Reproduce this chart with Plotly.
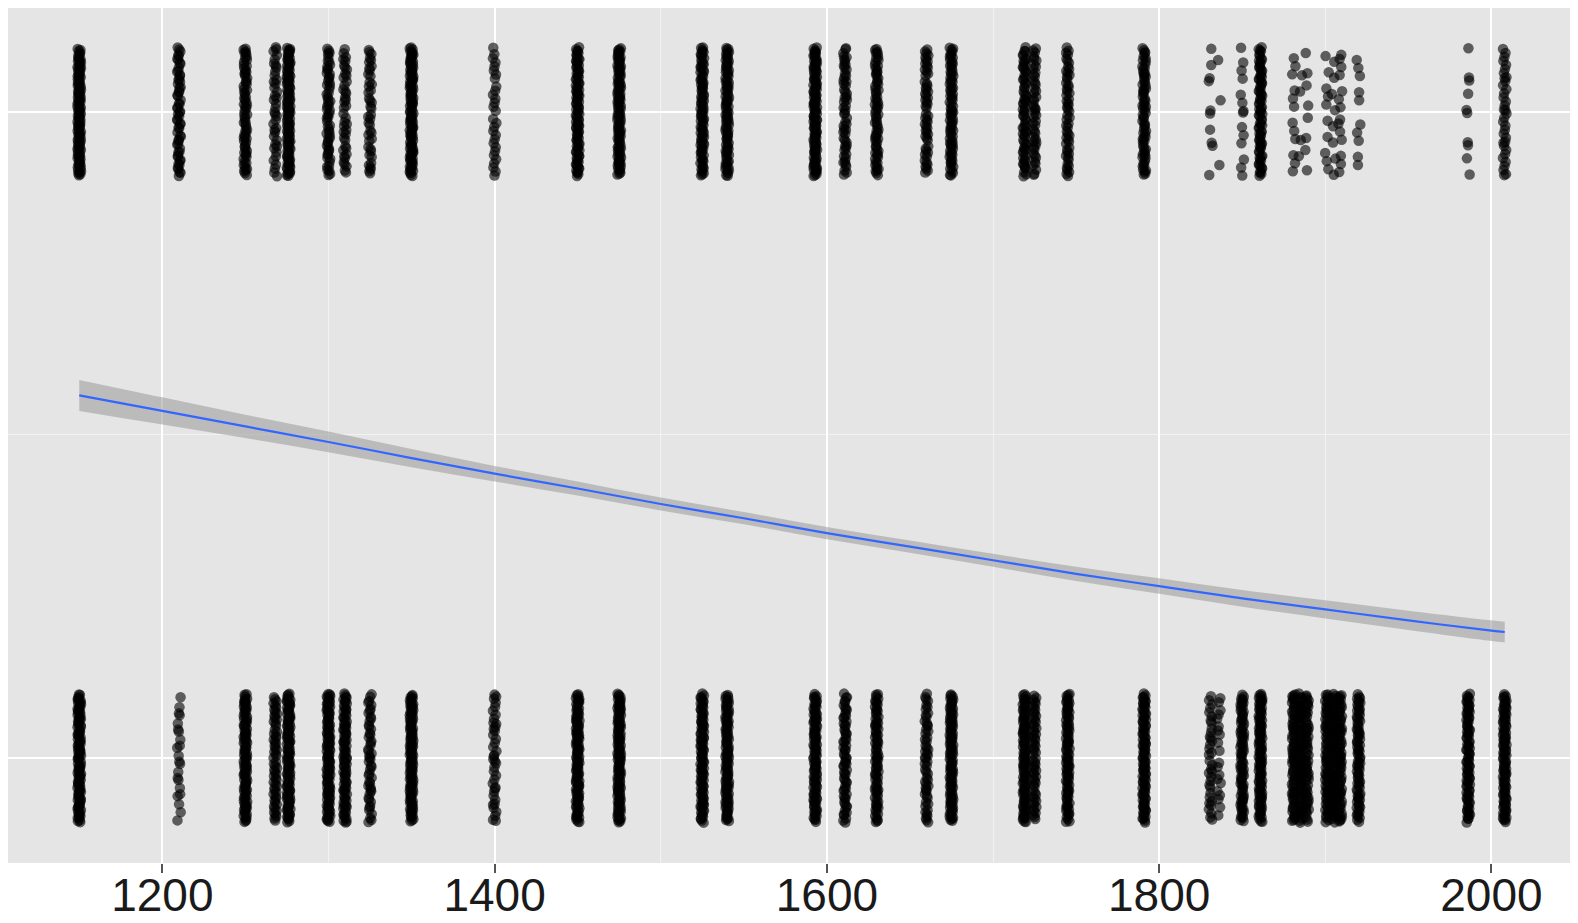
import plotly.graph_objects as go

# ---------------- data ----------------
years = [1150, 1210, 1250, 1268, 1276, 1300, 1310, 1325, 1350, 1400,
         1450, 1475, 1525, 1540, 1593, 1611, 1630, 1660, 1675, 1719,
         1725, 1745, 1791, 1831, 1836, 1850, 1861, 1881, 1885, 1889,
         1901, 1905, 1909, 1920, 1986, 2008]
n_one = [110, 60, 70, 40, 110, 60, 42, 42, 110, 30,
         100, 100, 90, 90, 110, 55, 70, 55, 80, 70,
         50, 55, 70, 10, 3, 14, 80, 12, 4, 8,
         10, 8, 14, 10, 10, 36]
n_zero = [110, 22, 100, 60, 110, 110, 90, 50, 110, 40,
          110, 110, 100, 100, 100, 65, 80, 55, 100, 100,
          60, 90, 100, 35, 20, 80, 100, 70, 70, 60,
          70, 70, 70, 80, 90, 100]

curve_year = [1150, 1200, 1250, 1300, 1350, 1400, 1450, 1500, 1550, 1600,
              1650, 1700, 1750, 1800, 1850, 1900, 1950, 2000, 2008]
curve_fit = [0.561, 0.537, 0.513, 0.489, 0.464, 0.440, 0.417, 0.393, 0.371, 0.348,
             0.327, 0.306, 0.285, 0.266, 0.247, 0.230, 0.213, 0.197, 0.195]
curve_lo = [0.537, 0.516, 0.495, 0.473, 0.450, 0.428, 0.406, 0.383, 0.3615, 0.3385,
            0.3175, 0.296, 0.274, 0.254, 0.234, 0.216, 0.198, 0.181, 0.179]
curve_hi = [0.585, 0.558, 0.531, 0.505, 0.478, 0.452, 0.428, 0.403, 0.3805, 0.3575,
            0.3365, 0.316, 0.296, 0.278, 0.260, 0.244, 0.228, 0.213, 0.211]

x_ticks = [1200, 1400, 1600, 1800, 2000]


# ---------------- deterministic jitter (layout only, Halton sequence) ----------------
def halton(index, base):
    f, r = 1.0, 0.0
    while index > 0:
        f /= base
        r += f * (index % base)
        index //= base
    return r


JIT_X, JIT_Y = 1.1, 0.1
px, py = [], []
k = 0
for yr, n1, n0 in zip(years, n_one, n_zero):
    for base, n in ((1, n1), (0, n0)):
        for i in range(n):
            k += 1
            u = halton(k, 2)
            v = halton(k, 3)
            px.append(yr + (-JIT_X + 2 * JIT_X * v))
            py.append(base + (-JIT_Y + 2 * JIT_Y * u))

fig = go.Figure()
fig.add_trace(go.Scatter(
    x=px, y=py, mode="markers",
    marker=dict(size=10.5, color="rgba(0,0,0,0.6)", line=dict(width=0)),
    hoverinfo="skip", showlegend=False))
fig.add_trace(go.Scatter(
    x=curve_year, y=curve_hi, mode="lines", line=dict(width=0, shape="spline"),
    hoverinfo="skip", showlegend=False))
fig.add_trace(go.Scatter(
    x=curve_year, y=curve_lo, mode="lines", line=dict(width=0, shape="spline"),
    fill="tonexty", fillcolor="rgba(153,153,153,0.55)",
    hoverinfo="skip", showlegend=False))
fig.add_trace(go.Scatter(
    x=curve_year, y=curve_fit, mode="lines",
    line=dict(color="#3366FF", width=2.2, shape="spline"),
    showlegend=False))

# the page body adds an 8px offset; figure sized so it ends at the window edge
fig.update_layout(
    width=1570, height=915,
    margin=dict(l=0, r=2, t=0, b=60, autoexpand=False),
    paper_bgcolor="white", plot_bgcolor="#E5E5E5",
    xaxis=dict(
        range=[1107.1, 2050.9], tickvals=x_ticks, automargin=False,
        ticks="outside", ticklen=9, tickwidth=1.5, tickcolor="#555555",
        ticklabelstandoff=-17,
        tickfont=dict(family="Liberation Sans, Arial, sans-serif", size=46, color="#1a1a1a"),
        showgrid=True, gridcolor="white", gridwidth=2,
        zeroline=False, showline=False,
        minor=dict(tickmode="array", tickvals=[1100, 1300, 1500, 1700, 1900],
                   showgrid=True, gridcolor="#F2F2F2", gridwidth=1, ticks=""),
    ),
    yaxis=dict(
        range=[-0.1624, 1.1604], tickvals=[0, 1], showticklabels=False, ticks="",
        automargin=False,
        showgrid=True, gridcolor="white", gridwidth=2,
        zeroline=False, showline=False,
        minor=dict(tickmode="array", tickvals=[0.5],
                   showgrid=True, gridcolor="#F2F2F2", gridwidth=1, ticks=""),
    ),
)

fig.write_html("out.html")
